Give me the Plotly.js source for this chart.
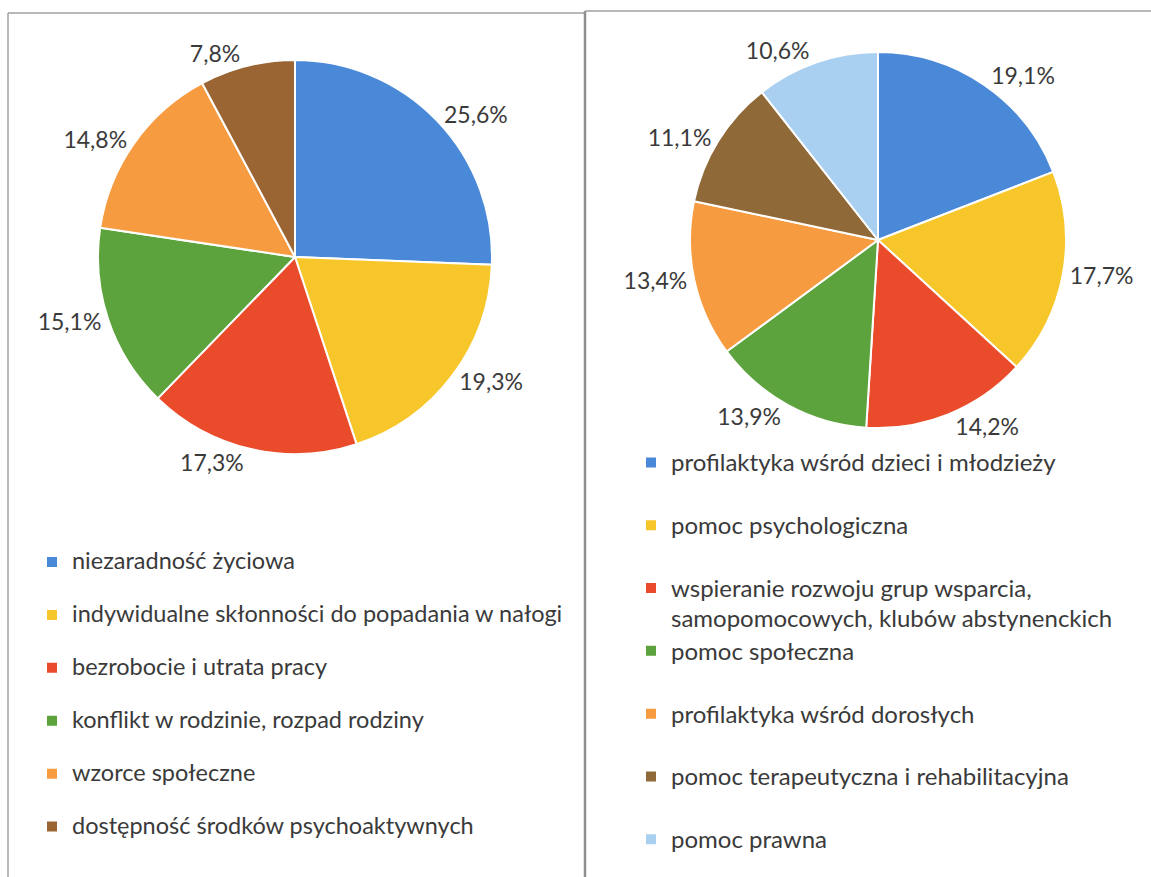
<!DOCTYPE html>
<html>
<head>
<meta charset="utf-8">
<script src="https://cdn.plot.ly/plotly-3.0.1.min.js"></script>
<style>html,body{margin:0;padding:0;background:#fff;}#chart{width:1151px;height:877px;}</style>
</head>
<body>
<div id="chart"></div>
<script>
// Left chart: causes
const causesLabels = [
  "niezaradność życiowa",
  "indywidualne skłonności do popadania w nałogi",
  "bezrobocie i utrata pracy",
  "konflikt w rodzinie, rozpad rodziny",
  "wzorce społeczne",
  "dostępność środków psychoaktywnych"
];
const causesValues = [25.6, 19.3, 17.3, 15.1, 14.8, 7.8];
const causesColors = ["#4a89d8", "#f7c62a", "#ea4b2b", "#5ca33d", "#f79b40", "#9a6532"];

// Right chart: forms of help
const helpLabels = [
  "profilaktyka wśród dzieci i młodzieży",
  "pomoc psychologiczna",
  "wspieranie rozwoju grup wsparcia,<br>samopomocowych, klubów abstynenckich",
  "pomoc społeczna",
  "profilaktyka wśród dorosłych",
  "pomoc terapeutyczna i rehabilitacyjna",
  "pomoc prawna"
];
const helpValues = [19.1, 17.7, 14.2, 13.9, 13.4, 11.1, 10.6];
const helpColors = ["#4a89d8", "#f7c62a", "#ea4b2b", "#5ca33d", "#f79b40", "#8f6a38", "#a9cff1"];

const W = 1151, H = 877;
function legendText(labels, size) {
  return labels.map((l, i) => {
    const parts = l.split('<br>');
    const body = parts.map(p => '<span style="font-size:' + size + 'px">' + p + '</span>').join('<br>');
    return (parts.length > 1 || i === labels.length - 1) ? body : body + '<br>\u00a0';
  });
}
function px(x0, x1) { return [x0 / W, x1 / W]; }
function py(top, bottom) { return [1 - bottom / H, 1 - top / H]; }

const FONT = "Lato, 'Open Sans', sans-serif";

const traces = [
  {
    type: 'pie',
    labels: legendText(causesLabels, 23.5),
    values: causesValues,
    sort: false,
    direction: 'clockwise',
    rotation: 0,
    marker: {colors: causesColors, line: {color: '#ffffff', width: 2}},
    textposition: 'outside',
    texttemplate: '%{value:.1f}%',
    textfont: {family: FONT, size: 23, color: '#3a3a3a'},
    hoverinfo: 'label+value',
    domain: {x: px(98, 492), y: py(60, 454)},
    legend: 'legend'
  },
  {
    type: 'pie',
    labels: legendText(helpLabels, 24),
    values: helpValues,
    sort: false,
    direction: 'clockwise',
    rotation: 0,
    marker: {colors: helpColors, line: {color: '#ffffff', width: 2}},
    textposition: 'outside',
    texttemplate: '%{value:.1f}%',
    textfont: {family: FONT, size: 23, color: '#3a3a3a'},
    hoverinfo: 'label+value',
    domain: {x: px(690, 1066), y: py(52, 428)},
    legend: 'legend2'
  }
];

const layout = {
  width: W, height: H,
  margin: {l: 0, r: 0, t: 0, b: 0},
  paper_bgcolor: '#ffffff',
  separators: ', ',
  font: {family: FONT, color: '#3a3a3a'},
  showlegend: true,
  legend: {
    x: 32 / W, xanchor: 'left', y: 1 - 543 / H, yanchor: 'top',
    font: {family: FONT, size: 19.2, color: '#3a3a3a'},
    valign: 'top', itemclick: false, bgcolor: 'rgba(0,0,0,0)'
  },
  legend2: {
    x: 631 / W, xanchor: 'left', y: 1 - 441 / H, yanchor: 'top',
    font: {family: FONT, size: 23, color: '#3a3a3a'},
    valign: 'top', itemclick: false, bgcolor: 'rgba(0,0,0,0)'
  },
  shapes: [
    {type: 'line', xref: 'paper', yref: 'paper', x0: 8 / W, x1: 585 / W, y0: 1 - 13 / H, y1: 1 - 13 / H, line: {color: '#a0a0a0', width: 1.5}},
    {type: 'line', xref: 'paper', yref: 'paper', x0: 8 / W, x1: 8 / W, y0: 0, y1: 1 - 13 / H, line: {color: '#a0a0a0', width: 1.5}},
    {type: 'line', xref: 'paper', yref: 'paper', x0: 585 / W, x1: 585 / W, y0: 0, y1: 1 - 11 / H, line: {color: '#909090', width: 2.5}},
    {type: 'line', xref: 'paper', yref: 'paper', x0: 585 / W, x1: 1, y0: 1 - 11 / H, y1: 1 - 11 / H, line: {color: '#a0a0a0', width: 1.5}}
  ]
};

Plotly.newPlot('chart', traces, layout, {displayModeBar: false, staticPlot: true});
</script>
</body>
</html>
